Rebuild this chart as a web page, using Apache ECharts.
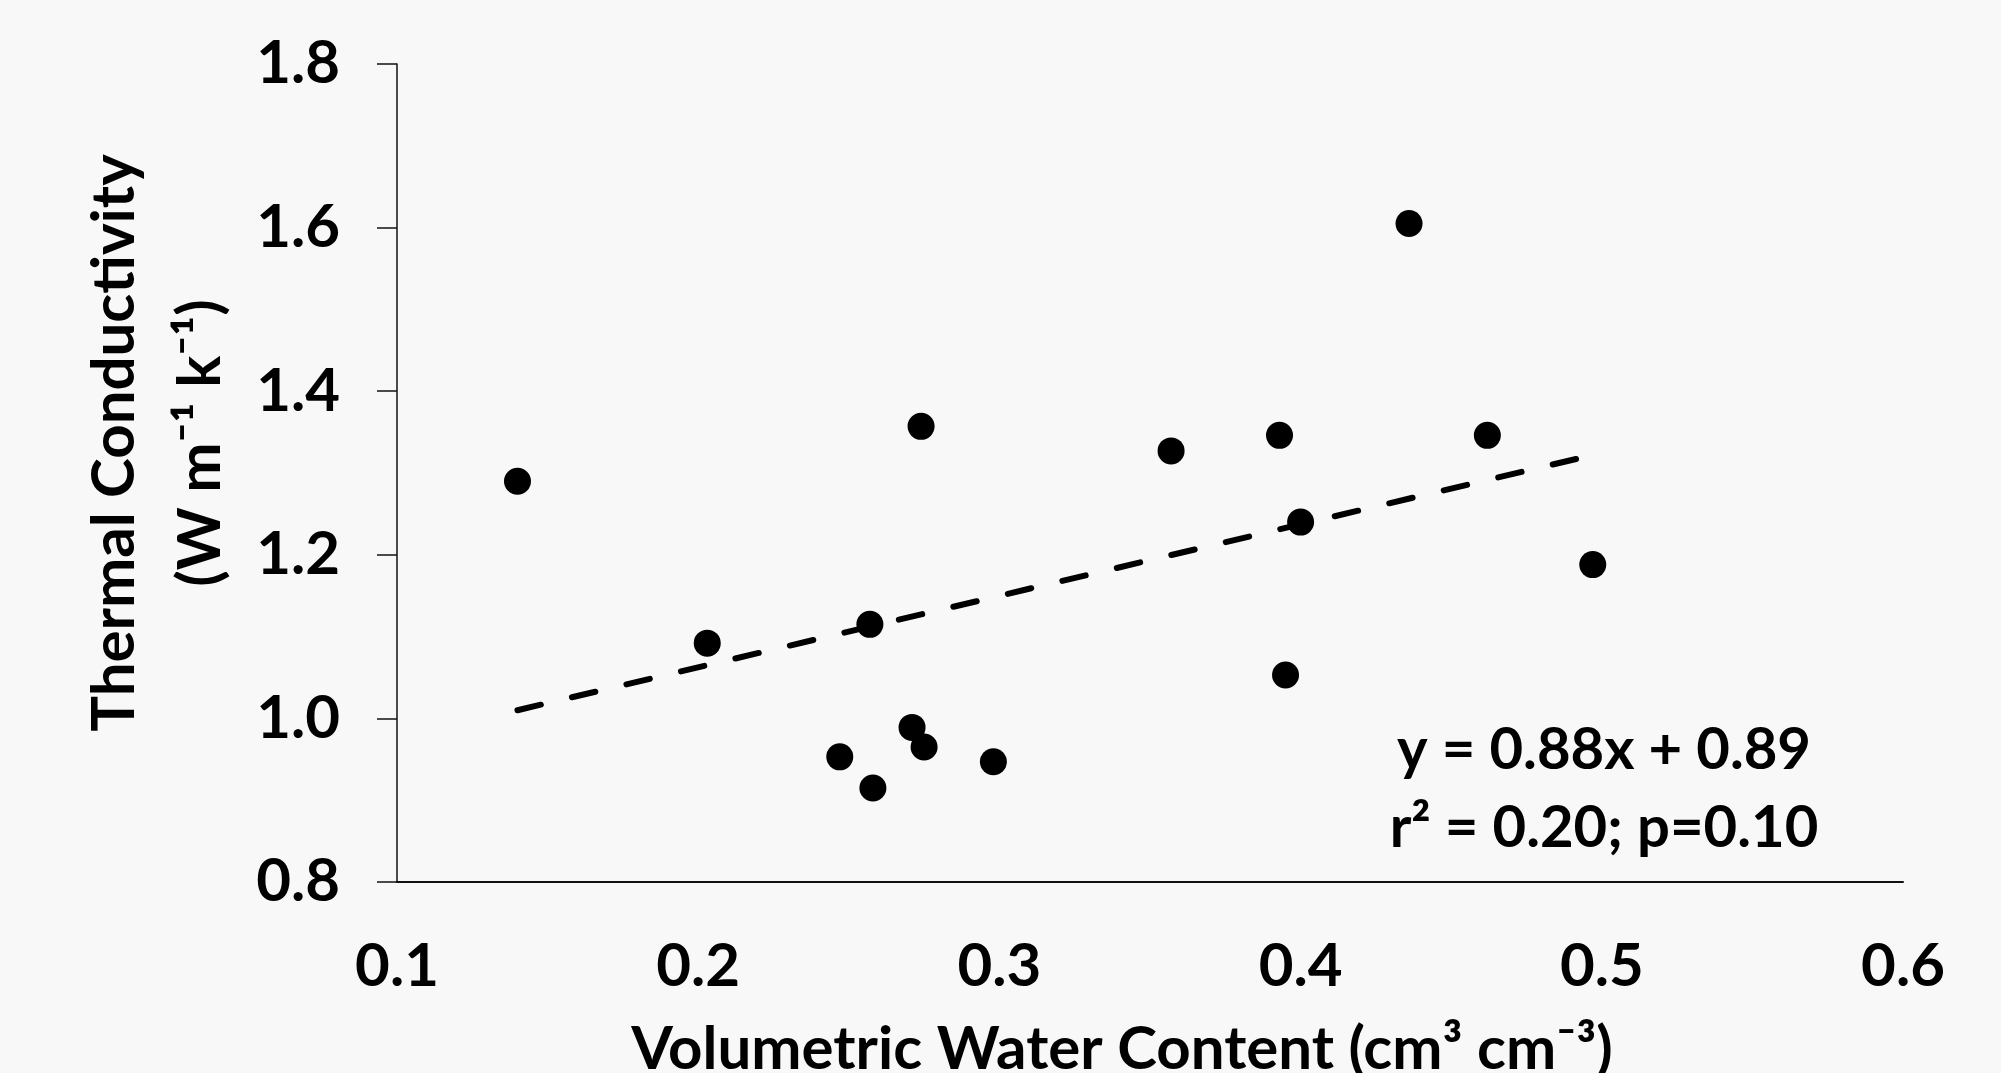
<!DOCTYPE html>
<html lang="en" style="height: 100%">
<head>
<meta charset="utf-8">
<title>Thermal Conductivity vs Volumetric Water Content</title>
</head>
<body style="height: 100%; margin: 0; background: #f8f8f8">
<div id="container" style="height: 100%"></div>

<script type="text/javascript" src="https://cdn.jsdelivr.net/npm/echarts@6/dist/echarts.min.js"></script>

<script type="text/javascript">

// measured points
var waterContent = [0.140, 0.203, 0.247, 0.257, 0.258, 0.271, 0.274, 0.275, 0.298, 0.357, 0.393, 0.395, 0.400, 0.436, 0.462, 0.497];
var conductivity = [1.290, 1.092, 0.953, 1.115, 0.915, 0.989, 1.357, 0.965, 0.947, 1.327, 1.346, 1.053, 1.240, 1.605, 1.346, 1.188];

// ends of the dashed fit line
var trendX = [0.14, 0.497];
var trendY = [1.01, 1.322];

// axis ticks
var xTicks = [0.1, 0.2, 0.3, 0.4, 0.5, 0.6];
var yTicks = [0.8, 1.0, 1.2, 1.4, 1.6, 1.8];

var fitText = ['y = 0.88x + 0.89', 'r² = 0.20; p=0.10'];

var FONT = 'Lato';

var dom = document.getElementById('container');
var myChart = echarts.init(dom);

var points = waterContent.map(function (x, i) { return [x, conductivity[i]]; });
var trend = trendX.map(function (x, i) { return [x, trendY[i]]; });

option = {
    backgroundColor: '#f8f8f8',
    animation: false,
    textStyle: { fontFamily: FONT, fontWeight: 'bold', color: '#000' },
    grid: { left: 397, right: 98, top: 64, bottom: 191, outerBoundsMode: 'none', containLabel: false },
    xAxis: {
        type: 'value',
        min: xTicks[0],
        max: xTicks[xTicks.length - 1],
        interval: 0.1,
        name: 'Volumetric Water Content (cm³ cm⁻³)',
        nameLocation: 'middle',
        nameGap: 138,
        nameTextStyle: { fontFamily: FONT, fontWeight: 'bold', fontSize: 60, color: '#000', padding: [0, 56, 0, 0] },
        axisLine: { lineStyle: { color: '#111', width: 2 } },
        axisTick: { show: false },
        splitLine: { show: false },
        axisLabel: {
            margin: 55,
            fontFamily: FONT, fontWeight: 'bold', fontSize: 60, color: '#000',
            formatter: function (v) { return v.toFixed(1); }
        }
    },
    yAxis: {
        type: 'value',
        min: yTicks[0],
        max: yTicks[yTicks.length - 1],
        interval: 0.2,
        name: 'Thermal Conductivity\n(W m⁻¹ k⁻¹)',
        nameLocation: 'middle',
        nameGap: 153,
        nameTextStyle: { fontFamily: FONT, fontWeight: 'bold', fontSize: 60, color: '#000', lineHeight: 86, padding: [0, 0, 0, 60] },
        axisLine: { show: true, lineStyle: { color: '#111', width: 1.5 } },
        axisTick: { show: true, inside: false, length: 20, lineStyle: { color: '#111', width: 1.5 } },
        splitLine: { show: false },
        axisLabel: {
            margin: 57,
            fontFamily: FONT, fontWeight: 'bold', fontSize: 60, color: '#000',
            formatter: function (v) { return v.toFixed(1); }
        }
    },
    graphic: [
        {
            type: 'text', x: 1604, y: 750,
            style: { text: fitText[0], font: 'bold 58px ' + FONT, fill: '#000', textAlign: 'center', textVerticalAlign: 'middle' }
        },
        {
            type: 'text', x: 1604, y: 828,
            style: { text: fitText[1], font: 'bold 58px ' + FONT, fill: '#000', textAlign: 'center', textVerticalAlign: 'middle' }
        }
    ],
    series: [
        {
            type: 'line',
            data: trend,
            symbol: 'none',
            silent: true,
            lineStyle: { color: '#000', width: 6, type: [24, 32], cap: 'round' },
            z: 1
        },
        {
            type: 'scatter',
            data: points,
            symbol: 'circle',
            symbolSize: 27,
            itemStyle: { color: '#000', opacity: 1 },
            z: 2
        }
    ]
};

if (option && typeof option === 'object') {
    myChart.setOption(option);
}

window.addEventListener('resize', myChart.resize);
</script>
</body>
</html>
